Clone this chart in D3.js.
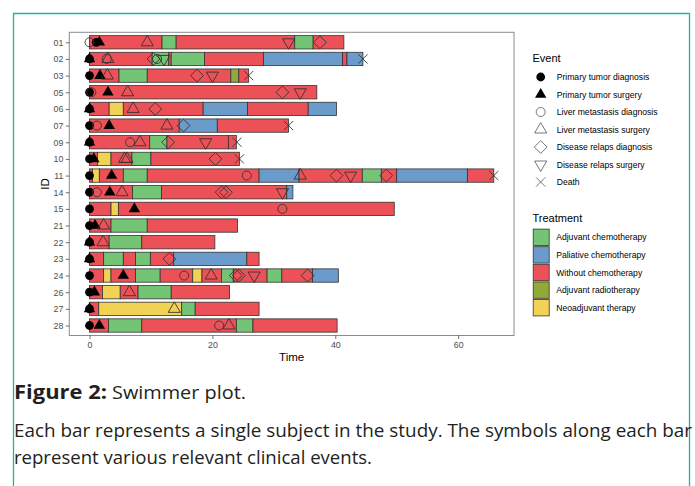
<!DOCTYPE html>
<html>
<head>
<meta charset="utf-8">
<script src="https://cdn.jsdelivr.net/npm/d3@7"></script>
<style>
  body { margin: 0; background: #fff; }
  svg { display: block; }
</style>
</head>
<body>
<svg id="chart" width="695" height="486"></svg>
<script>
// subjects, top to bottom
const ids = ["01","02","03","05","06","07","09","10","11","14","15","21","22","23","24","26","27","28"];

// treatment categories (legend order)
const treatments = ["Adjuvant chemotherapy","Paliative chemotherapy","Without chemotherapy","Adjuvant radiotherapy","Neoadjuvant therapy"];
const treatmentCodes = ["A","P","W","R","N"];

// event categories (legend order)
const eventTypes = ["Primary tumor diagnosis","Primary tumor surgery","Liver metastasis diagnosis","Liver metastasis surgery","Disease relaps diagnosis","Disease relaps surgery","Death"];
const eventCodes = ["PTD","PTS","LMD","LMS","DRD","DRS","X"];

const xTicks = [0, 20, 40, 60];

// [id, start, end, treatment]
const segments = [
  ["01",0,11.8,"W"],["01",11.8,14.1,"A"],["01",14.1,33.4,"W"],["01",33.4,36.4,"A"],["01",36.4,41.4,"W"],
  ["02",0,10.2,"W"],["02",10.2,12.9,"A"],["02",12.9,13.3,"W"],["02",13.3,18.7,"A"],["02",18.7,28.3,"W"],["02",28.3,41.2,"P"],["02",41.2,41.9,"W"],["02",41.9,44.5,"P"],
  ["03",0,4.8,"W"],["03",4.8,9.4,"A"],["03",9.4,23.0,"W"],["03",23.0,24.3,"R"],["03",24.3,25.9,"W"],
  ["05",0,37.0,"W"],
  ["06",0,3.2,"W"],["06",3.2,5.5,"N"],["06",5.5,18.5,"W"],["06",18.5,25.7,"P"],["06",25.7,35.6,"W"],["06",35.6,40.2,"P"],
  ["07",0,14.6,"W"],["07",14.6,20.8,"P"],["07",20.8,32.4,"W"],
  ["09",0,9.8,"W"],["09",9.8,12.6,"A"],["09",12.6,22.6,"W"],["09",22.6,23.9,"W"],
  ["10",0,1.3,"W"],["10",1.3,3.5,"N"],["10",3.5,6.9,"W"],["10",6.9,10.0,"A"],["10",10.0,24.4,"W"],
  ["11",0,0.5,"W"],["11",0.5,1.6,"N"],["11",1.6,5.5,"W"],["11",5.5,9.4,"A"],["11",9.4,27.6,"W"],["11",27.6,34.1,"P"],["11",34.1,44.4,"W"],["11",44.4,47.5,"A"],["11",47.5,50.0,"W"],["11",50.0,61.5,"P"],["11",61.5,65.8,"W"],
  ["14",0,7.0,"W"],["14",7.0,11.7,"A"],["14",11.7,32.1,"W"],["14",32.1,33.1,"P"],
  ["15",0,3.5,"W"],["15",3.5,4.7,"N"],["15",4.7,49.6,"W"],
  ["21",0,3.5,"W"],["21",3.5,9.4,"A"],["21",9.4,24.1,"W"],
  ["22",0,3.2,"W"],["22",3.2,8.5,"A"],["22",8.5,20.4,"W"],
  ["23",0,2.3,"W"],["23",2.3,5.5,"A"],["23",5.5,7.5,"W"],["23",7.5,9.9,"A"],["23",9.9,13.7,"W"],["23",13.7,25.6,"P"],["23",25.6,27.6,"W"],
  ["24",0,2.3,"W"],["24",2.3,3.5,"N"],["24",3.5,7.5,"W"],["24",7.5,11.5,"A"],["24",11.5,16.8,"W"],["24",16.8,18.3,"N"],["24",18.3,21.5,"W"],["24",21.5,23.4,"A"],["24",23.4,28.9,"W"],["24",28.9,31.3,"A"],["24",31.3,36.3,"W"],["24",36.3,40.5,"P"],
  ["26",0,2.1,"W"],["26",2.1,5.0,"N"],["26",5.0,7.9,"W"],["26",7.9,13.3,"A"],["26",13.3,22.8,"W"],
  ["27",0,1.5,"W"],["27",1.5,15.0,"N"],["27",15.0,17.2,"A"],["27",17.2,27.6,"W"],
  ["28",0,3.1,"W"],["28",3.1,8.5,"A"],["28",8.5,23.9,"W"],["28",23.9,26.6,"A"],["28",26.6,40.3,"W"]
];

// [id, time, event]
const events = [
  ["01",0,"LMD"],["01",1.1,"PTD"],["01",1.6,"PTS"],["01",9.4,"LMS"],["01",32.4,"DRS"],["01",37.5,"DRD"],
  ["02",0,"PTD"],["02",0,"PTS"],["02",2.8,"LMD"],["02",3.0,"LMS"],["02",10.4,"DRD"],["02",11.0,"LMD"],["02",12.1,"DRS"],["02",44.5,"X"],
  ["03",0,"PTD"],["03",1.7,"PTS"],["03",2.9,"LMS"],["03",17.5,"DRD"],["03",20.0,"DRS"],["03",25.9,"X"],
  ["05",0,"PTD"],["05",0.3,"LMD"],["05",3.0,"PTS"],["05",6.2,"LMS"],["05",31.4,"DRD"],["05",34.3,"DRS"],
  ["06",0,"PTD"],["06",0,"PTS"],["06",7.1,"LMS"],["06",10.7,"DRD"],
  ["07",0,"PTD"],["07",1.2,"LMD"],["07",3.2,"PTS"],["07",12.6,"LMS"],["07",15.3,"DRD"],["07",32.4,"X"],
  ["09",0,"PTD"],["09",0,"PTS"],["09",6.6,"LMD"],["09",8.2,"LMS"],["09",12.8,"DRD"],["09",18.9,"DRS"],["09",24.0,"X"],
  ["10",0,"PTD"],["10",0.7,"PTS"],["10",5.7,"LMS"],["10",6.1,"LMS"],["10",20.5,"DRD"],["10",24.4,"X"],
  ["11",0,"PTD"],["11",3.6,"PTS"],["11",25.6,"LMD"],["11",34.3,"LMS"],["11",40.2,"DRD"],["11",42.5,"DRS"],["11",48.3,"DRD"],["11",65.8,"X"],
  ["14",0,"PTD"],["14",1.2,"LMD"],["14",3.3,"PTS"],["14",5.3,"LMS"],["14",21.5,"DRD"],["14",22.2,"DRD"],["14",31.4,"DRS"],
  ["15",0,"PTD"],["15",7.3,"PTS"],["15",31.4,"LMD"],
  ["21",0,"PTD"],["21",0.9,"PTS"],["21",2.3,"LMS"],
  ["22",0,"PTD"],["22",0,"PTS"],["22",2.2,"LMS"],
  ["23",0,"PTD"],["23",0,"PTS"],["23",13.0,"DRD"],
  ["24",0,"PTD"],["24",5.5,"PTS"],["24",15.4,"LMD"],["24",19.8,"LMS"],["24",23.8,"DRD"],["24",24.3,"DRD"],["24",26.8,"DRS"],["24",35.5,"DRD"],
  ["26",0,"PTD"],["26",0.8,"PTS"],["26",6.5,"LMS"],
  ["27",0,"PTD"],["27",0,"PTS"],["27",13.8,"LMS"],
  ["28",0,"PTD"],["28",1.6,"PTS"],["28",21.1,"LMD"],["28",22.7,"LMS"]
];

const svg = d3.select("#chart");
const font = "'Liberation Sans', Arial, sans-serif";

// page frame
svg.append("path")
  .attr("d", "M13.5,490 V13.5 H689.5 V490")
  .attr("fill", "none").attr("stroke", "#1fb49c").attr("stroke-width", 1.3);

// panel
const panel = { left: 69.3, right: 514, top: 32.3, bottom: 335.5 };
const xMax = d3.max(segments, d => d[2]);
const pad = xMax * 0.05;

const x = d3.scaleLinear().domain([-pad, xMax + pad]).range([panel.left, panel.right]);
const y = d3.scalePoint().domain(ids).range([panel.top, panel.bottom]).padding(0.6);
const barH = y.step() * 0.8;

const color = d3.scaleOrdinal().domain(treatmentCodes)
  .range(["#74c476", "#6a9bcb", "#ed5158", "#93a83a", "#f2d254"]);

// symbol shapes (R pch style)
function shapeOf(code) {
  const r = 4.5, t = 7.0, tf = 6.6, h = 6.4, c = 4.6;
  switch (code) {
    case "PTD": return { d: d3.arc()({innerRadius: 0, outerRadius: 4.4, startAngle: 0, endAngle: 2 * Math.PI}), fill: "#000", stroke: "none" };
    case "PTS": return { d: `M0,${-tf}L${tf*0.866},${tf/2}L${-tf*0.866},${tf/2}Z`, fill: "#000", stroke: "none" };
    case "LMD": return { d: d3.arc()({innerRadius: 0, outerRadius: r, startAngle: 0, endAngle: 2 * Math.PI}), fill: "none" };
    case "LMS": return { d: `M0,${-t}L${t*0.866},${t/2}L${-t*0.866},${t/2}Z`, fill: "none" };
    case "DRD": return { d: `M0,${-h}L${h},0L0,${h}L${-h},0Z`, fill: "none" };
    case "DRS": return { d: `M0,${t}L${t*0.866},${-t/2}L${-t*0.866},${-t/2}Z`, fill: "none" };
    default:    return { d: `M${-c},${-c}L${c},${c}M${-c},${c}L${c},${-c}`, fill: "none" };
  }
}

// bars
svg.append("g").selectAll("rect")
  .data(segments)
  .join("rect")
  .attr("x", d => x(d[1]))
  .attr("y", d => y(d[0]) - barH / 2)
  .attr("width", d => x(d[2]) - x(d[1]))
  .attr("height", barH)
  .attr("fill", d => color(d[3]))
  .attr("stroke", "#333")
  .attr("stroke-width", 0.8);

// events
const order = d3.scaleOrdinal().domain(eventCodes).range(d3.range(eventCodes.length));
const evSorted = events.slice().sort((a, b) => order(a[2]) - order(b[2]));
svg.append("g").selectAll("path")
  .data(evSorted)
  .join("path")
  .attr("transform", d => `translate(${x(d[1])},${y(d[0])})`)
  .attr("d", d => shapeOf(d[2]).d)
  .attr("fill", d => shapeOf(d[2]).fill)
  .attr("stroke", d => shapeOf(d[2]).stroke || "#333")
  .attr("stroke-width", 0.9);

// panel border
svg.append("rect")
  .attr("x", panel.left).attr("y", panel.top)
  .attr("width", panel.right - panel.left).attr("height", panel.bottom - panel.top)
  .attr("fill", "none").attr("stroke", "#8c8c8c").attr("stroke-width", 1);

// axes
const xAxis = svg.append("g")
  .attr("transform", `translate(0,${panel.bottom})`)
  .call(d3.axisBottom(x).tickValues(xTicks).tickSize(3.5).tickPadding(2.5));
const yAxis = svg.append("g")
  .attr("transform", `translate(${panel.left},0)`)
  .call(d3.axisLeft(y).tickSize(3.5).tickPadding(2.5));
[xAxis, yAxis].forEach(a => {
  a.select(".domain").remove();
  a.selectAll(".tick line").attr("stroke", "#333").attr("stroke-width", 0.7);
  a.selectAll(".tick text").attr("fill", "#4d4d4d").style("font-family", font).style("font-size", "8.8px");
});

svg.append("text")
  .attr("x", (panel.left + panel.right) / 2).attr("y", 361)
  .attr("text-anchor", "middle")
  .style("font-family", font).style("font-size", "11.5px")
  .text("Time");

svg.append("text")
  .attr("transform", `translate(49,${(panel.top + panel.bottom) / 2}) rotate(-90)`)
  .attr("text-anchor", "middle")
  .style("font-family", font).style("font-size", "11.5px")
  .text("ID");

// legend: events
const lg = svg.append("g").style("font-family", font);
lg.append("text").attr("x", 532.5).attr("y", 62).style("font-size", "11px").text("Event");
const evItem = lg.selectAll("g.ev")
  .data(eventCodes)
  .join("g")
  .attr("class", "ev")
  .attr("transform", (d, i) => `translate(540.7,${77 + i * 17.5})`);
evItem.append("path")
  .attr("d", d => shapeOf(d).d)
  .attr("fill", d => shapeOf(d).fill)
  .attr("stroke", d => shapeOf(d).stroke || "#555")
  .attr("stroke-width", 0.8);
evItem.append("text")
  .attr("x", 16).attr("y", 3)
  .style("font-size", "8.6px")
  .text((d, i) => eventTypes[i]);

// legend: treatments
lg.append("text").attr("x", 532.5).attr("y", 222).style("font-size", "11px").text("Treatment");
const trItem = lg.selectAll("g.tr")
  .data(treatmentCodes)
  .join("g")
  .attr("class", "tr")
  .attr("transform", (d, i) => `translate(532.7,${237.3 + i * 17.6})`);
trItem.append("rect")
  .attr("x", 0.5).attr("y", -8.2)
  .attr("width", 16).attr("height", 16.4)
  .attr("fill", d => color(d))
  .attr("stroke", "#333").attr("stroke-width", 0.8);
trItem.append("text")
  .attr("x", 23.5).attr("y", 3)
  .style("font-size", "8.6px")
  .text((d, i) => treatments[i]);

// caption
const cap = svg.append("g").style("font-family", "'Open Sans', Lato, sans-serif").attr("fill", "#231f20");
cap.append("text").attr("x", 14).attr("y", 399)
  .style("font-size", "19px").style("font-weight", "bold")
  .attr("textLength", 93).attr("lengthAdjust", "spacingAndGlyphs")
  .text("Figure 2:");
cap.append("text").attr("x", 112).attr("y", 399)
  .style("font-size", "19px")
  .attr("textLength", 134).attr("lengthAdjust", "spacingAndGlyphs")
  .text("Swimmer plot.");
cap.append("text").attr("x", 14).attr("y", 437)
  .style("font-size", "18px")
  .attr("textLength", 678).attr("lengthAdjust", "spacingAndGlyphs")
  .text("Each bar represents a single subject in the study. The symbols along each bar");
cap.append("text").attr("x", 14).attr("y", 464)
  .style("font-size", "18px")
  .attr("textLength", 358).attr("lengthAdjust", "spacingAndGlyphs")
  .text("represent various relevant clinical events.");
</script>
</body>
</html>
